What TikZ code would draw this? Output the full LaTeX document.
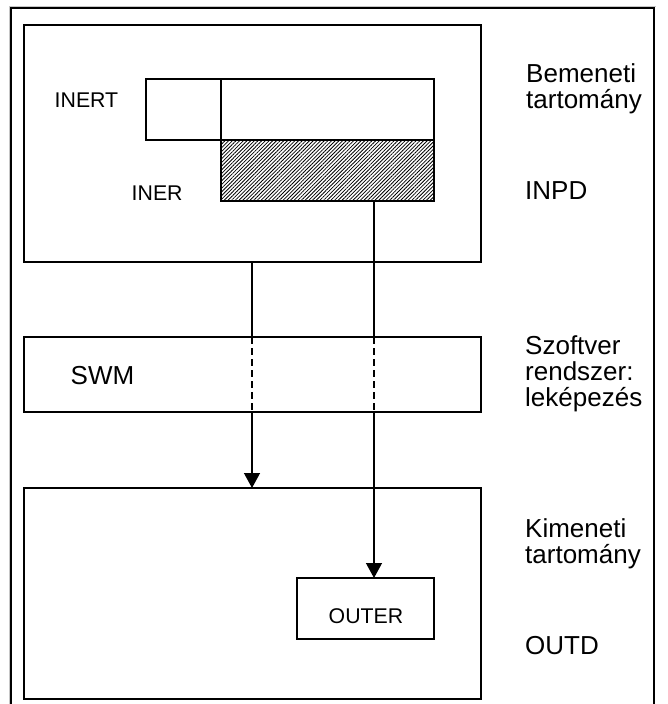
\documentclass[tikz,border=0pt]{standalone}
\usepackage{fontspec}
\setmainfont{Liberation Sans}
\usetikzlibrary{arrows.meta,patterns.meta}
\begin{document}
\begin{tikzpicture}[x=1pt,y=-1pt,
  boxst/.style={draw=black,line width=1.3pt,inner sep=0pt,outer sep=0pt,anchor=north west},
  hatchst/.style={boxst,pattern={Lines[angle=45,distance=2.6pt,line width=0.8pt]}},
  conn/.style={line width=1.3pt},
  dashconn/.style={line width=1.1pt,dash pattern=on 7pt off 4pt},
  arr/.style={line width=1.3pt,-{Triangle[width=16pt,length=15pt]}},
  small/.style={inner sep=0pt,anchor=base west,font=\fontsize{21.3}{23}\selectfont},
  big/.style={inner sep=0pt,anchor=base west,font=\fontsize{26}{26}\selectfont}]
\useasboundingbox (0,0) rectangle (667,704);
\fill[white] (0,0) rectangle (667,704);

% outer frame, open at the bottom
\draw[gray!45,line width=1pt] (9,704) -- (9,6) -- (656,6);
\draw[line width=1.2pt] (11,704) -- (11,8) -- (654,8) -- (654,704);

% input domain
\node[boxst,minimum width=457pt,minimum height=237pt] (inpd) at (24,25) {};
\node[boxst,minimum width=75pt,minimum height=61pt] (inert) at (146,79) {};
\node[boxst,minimum width=213pt,minimum height=61pt] (inbox) at (221,79) {};
\node[hatchst,minimum width=213pt,minimum height=61pt] (iner) at (221,140) {};
\node[small] (inertlbl) at (54.5,107) {INERT};
\node[small] (inerlbl) at (131.5,200) {INER};

% software mapping
\node[boxst,minimum width=457pt,minimum height=75pt] (swm) at (24,337) {};
\node[big] (swmlbl) at (70.5,384) {SWM};

% output domain
\node[boxst,minimum width=457pt,minimum height=211pt] (outd) at (24,488) {};
\node[boxst,minimum width=137pt,minimum height=61pt] (outer) at (297,578) {};
\node[small] (outerlbl) at (328.5,623) {OUTER};

% side labels, one node per line
\node[big] (l1a) at (526,82) {Bemeneti};
\node[big] (l1b) at (526,108) {tartomány};
\node[big] (l2)  at (525,199) {INPD};
\node[big] (l3a) at (525,354) {Szoftver};
\node[big] (l3b) at (525,380) {rendszer:};
\node[big] (l3c) at (525,406) {leképezés};
\node[big] (l4a) at (525,537) {Kimeneti};
\node[big] (l4b) at (525,563) {tartomány};
\node[big] (l5)  at (525,654) {OUTD};

% mapping arrows
\coordinate (la) at (252,0);
\coordinate (ra) at (374,0);
\draw[conn] (la |- inpd.south) -- (la |- swm.north);
\draw[dashconn] (la |- swm.north) -- (la |- swm.south);
\draw[arr] (la |- swm.south) -- (la |- outd.north);
\draw[conn] (ra |- iner.south) -- (ra |- swm.north);
\draw[dashconn] (ra |- swm.north) -- (ra |- swm.south);
\draw[arr] (ra |- swm.south) -- (ra |- outer.north);
\end{tikzpicture}
\end{document}
